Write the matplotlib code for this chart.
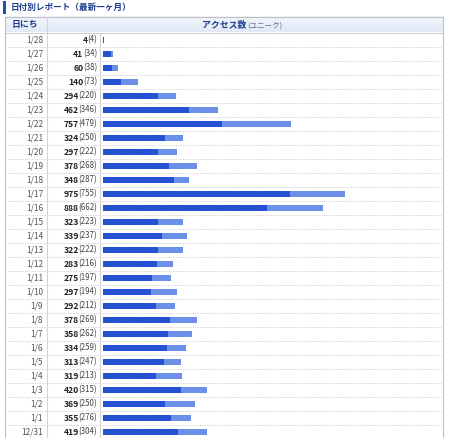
import matplotlib
matplotlib.use("Agg")
import matplotlib.pyplot as plt
import matplotlib.transforms as mtransforms
import numpy as np

plt.rcParams['font.family'] = ['Noto Sans CJK JP', 'DejaVu Sans']

dates = ["1/28", "1/27", "1/26", "1/25", "1/24", "1/23", "1/22", "1/21", "1/20", "1/19",
         "1/18", "1/17", "1/16", "1/15", "1/14", "1/13", "1/12", "1/11", "1/10", "1/9",
         "1/8", "1/7", "1/6", "1/5", "1/4", "1/3", "1/2", "1/1", "12/31"]
totals = [4, 41, 60, 140, 294, 462, 757, 324, 297, 378,
          348, 975, 888, 323, 339, 322, 283, 275, 297, 292,
          378, 358, 334, 313, 319, 420, 369, 355, 419]
uniques = [4, 34, 38, 73, 220, 346, 479, 250, 222, 268,
           287, 755, 662, 223, 237, 222, 216, 197, 194, 212,
           269, 262, 259, 247, 213, 315, 250, 276, 304]

title = "日付別レポート（最新一ヶ月）"
col_date = "日にち"
col_access = "アクセス数"
col_unique = "(ユニーク)"

W, H = 450, 438
fig = plt.figure(figsize=(W / 100, H / 100), dpi=100)
fig.patch.set_facecolor("white")

# background axes in pixel coordinates
ax = fig.add_axes([0, 0, 1, 1])
ax.set_xlim(0, W)
ax.set_ylim(H, 0)
ax.axis("off")

navy = "#1c3c8c"
dark_blue = "#2452d2"
light_blue = "#6a90e8"
grid_c = "#d2d2d2"

# title
ax.add_patch(plt.Rectangle((3, 1), 3, 13, color="#1f4fb0", lw=0))
ax.text(11, 7.5, title, fontsize=6.2, fontweight="bold", color=navy, va="center", ha="left")

# header
left, right, top, hdr_bottom = 5, 443, 17, 32.5
grad = np.linspace(0, 1, 20).reshape(-1, 1)
ax.imshow(grad, extent=(left, right, hdr_bottom, top), cmap=matplotlib.colors.LinearSegmentedColormap.from_list(
    "g", ["#f3f6fc", "#e2e9f6"]), aspect="auto", zorder=0)
ax.set_xlim(0, W)
ax.set_ylim(H, 0)
ax.plot([left, right], [top, top], color="#c0c0c0", lw=0.8)
ax.plot([left, right], [hdr_bottom, hdr_bottom], color="#c8d0dc", lw=0.8)
ax.plot([left, left], [top, H], color="#c0c0c0", lw=0.8)
ax.plot([right, right], [top, H], color="#c0c0c0", lw=0.8)
ax.plot([47, 47], [top, H], color="#d4d4d4", lw=0.8)
ax.plot([100, 100], [hdr_bottom, H], color="#d4d4d4", lw=0.8)
ax.text(25, 25, col_date, fontsize=6.4, fontweight="bold", color=navy, ha="center", va="center")
t_u = ax.text(282, 25.5, col_unique, fontsize=5.4, color="#5a6a90", ha="right", va="center")

# bar axes
n = len(dates)
row_h = 14
y0 = 33
x_left, x_right = 100, 443
bax = fig.add_axes([x_left / W, 1 - (y0 + n * row_h) / H, (x_right - x_left) / W, n * row_h / H])
bax.set_xlim(-12.1, 1371)
bax.set_ylim(n - 0.5, -0.5)
bax.axis("off")
bax.patch.set_alpha(0)

ypos = np.arange(n)
bax.barh(ypos, uniques, height=0.43, color=dark_blue, lw=0)
bax.barh(ypos, np.array(totals) - np.array(uniques), left=uniques, height=0.43, color=light_blue, lw=0)

# row separators
for i in range(n):
    yb = y0 + (i + 1) * row_h
    if yb < H:
        ax.plot([left, right], [yb, yb], color=grid_c, lw=0.7, ls=(0, (1.2, 1.3)))

trans = mtransforms.blended_transform_factory(ax.transData, bax.transData)
renderer = fig.canvas.get_renderer()

t_w = t_u.get_window_extent(renderer).width
ax.text(282 - t_w, 25, col_access, fontsize=6.4, fontweight="bold", color=navy, ha="right", va="center")

for i in range(n):
    ax.text(43, i, dates[i], fontsize=6.0, color="#555555", ha="right", va="center", transform=trans)
    tu = ax.text(97, i, f"({uniques[i]})", fontsize=5.7, color="#444444", ha="right", va="center",
                 transform=trans)
    w = tu.get_window_extent(renderer).width
    ax.text(97 - w + 0.5, i, f"{totals[i]}", fontsize=6.2, fontweight="bold", color="#222222",
            ha="right", va="center", transform=trans)

fig.savefig("out.png", dpi=100)
